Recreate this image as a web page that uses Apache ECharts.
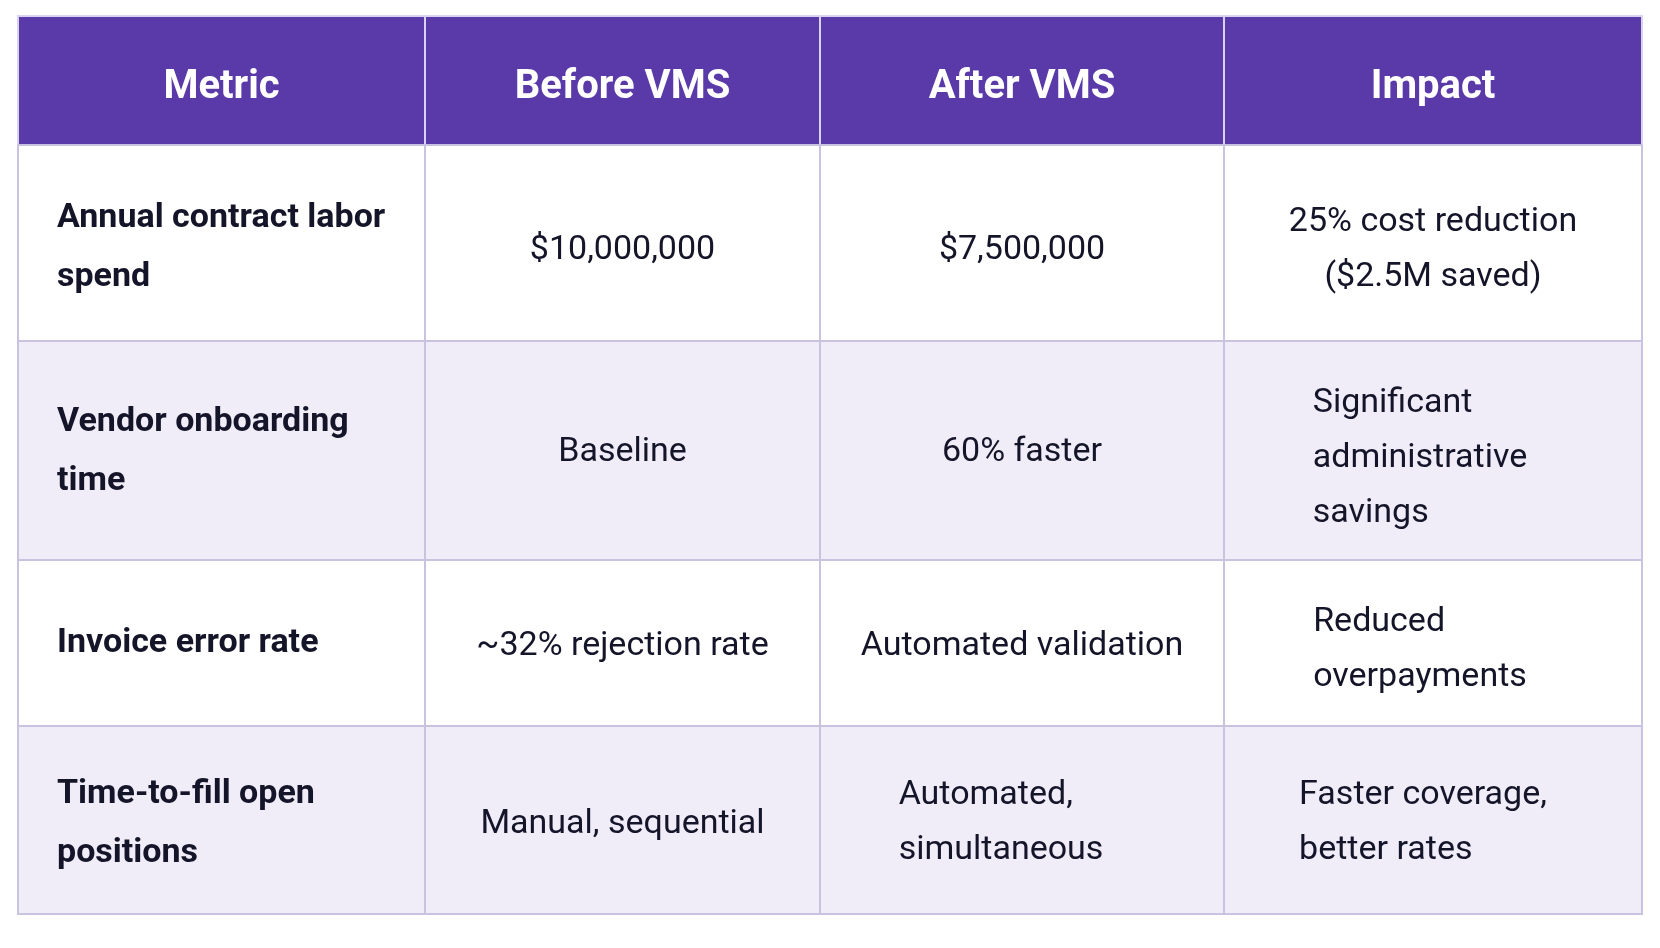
<!DOCTYPE html>
<html>
<head>
<meta charset="utf-8">
<script src="https://cdn.jsdelivr.net/npm/echarts@6/dist/echarts.min.js"></script>
<style>
  html, body { margin: 0; padding: 0; background: #ffffff; }
  #main { width: 1660px; height: 948px; }
</style>
</head>
<body>
<div id="main"></div>
<script>
// table content
var headers = ['Metric', 'Before VMS', 'After VMS', 'Impact'];
var metrics = ['Annual contract labor\nspend', 'Vendor onboarding\ntime', 'Invoice error rate', 'Time-to-fill open\npositions'];
var beforeVms = ['$10,000,000', 'Baseline', '~32% rejection rate', 'Manual, sequential'];
var afterVms = ['$7,500,000', '60% faster', 'Automated validation', 'Automated,\nsimultaneous'];
var impact = ['25% cost reduction\n($2.5M saved)', 'Significant\nadministrative\nsavings', 'Reduced\noverpayments', 'Faster coverage,\nbetter rates'];

// layout: column / row edges in axis units
var colEdges = [0, 407, 802, 1206, 1624];
var rowEdges = [0, 129, 325, 544, 710, 898];
// cells whose lines are left aligned inside a block, with the block's shift from centre
var blockCells = { '2,4': -21, '3,2': -13, '3,3': -13, '3,4': -10 };
// small vertical nudges per cell (col,row)
var yNudge = {
	'0,0': 7, '1,0': 7, '2,0': 7, '3,0': 7,
	'0,1': 5, '1,1': 7, '2,1': 7, '3,1': 7,
	'0,2': 1, '1,2': 2, '2,2': 2, '3,2': 8,
	'0,3': 0, '1,3': 3, '2,3': 3, '3,3': 7,
	'0,4': 4, '1,4': 4, '2,4': 3, '3,4': 3
};

var headFont = 'bold 40px Roboto';
var metricFont = 'bold 34px Roboto';
var bodyFont = '34px Roboto';

var measureCtx = document.createElement( 'canvas' ).getContext( '2d' );
var maxLineWidth = function(text, font){
	measureCtx.font = font;
	var lines = text.split( '\n' );
	var w = 0;
	for( var i = 0; i < lines.length; i++ ){
		w = Math.max( w, measureCtx.measureText( lines[i] ).width );
	}
	return w;
};

var cells = [];
for( var c = 0; c < headers.length; c++ ){
	cells.push( [c, 0, headers[c]] );
}
var columns = [metrics, beforeVms, afterVms, impact];
for( var r = 0; r < metrics.length; r++ ){
	for( c = 0; c < columns.length; c++ ){
		cells.push( [c, r + 1, columns[c][r]] );
	}
}

var renderCell = function(params, api){
	var col = api.value( 0 );
	var row = api.value( 1 );
	var key = col + ',' + row;
	var text = cells[params.dataIndex][2];
	var p0 = api.coord( [colEdges[col], rowEdges[row]] );
	var p1 = api.coord( [colEdges[col + 1], rowEdges[row + 1]] );
	var x = p0[0], y = p0[1], w = p1[0] - p0[0], h = p1[1] - p0[1];
	var isHead = row === 0;
	var fill = isHead ? '#5a39a9' : (row % 2 === 0 ? '#f0edf9' : '#ffffff');
	var font = isHead ? headFont : (col === 0 ? metricFont : bodyFont);
	var lineHeight = col === 0 ? 59 : 55;
	var tx = x + w / 2;
	var align = 'center';
	if( !isHead && col === 0 ){
		tx = x + 39;
		align = 'left';
	}else if( blockCells[key] !== undefined ){
		tx = x + w / 2 - maxLineWidth( text, font ) / 2 + blockCells[key];
		align = 'left';
	}
	return {
		type:'group',
		children:[
			{
				type:'rect',
				shape:{x:x, y:y, width:w, height:h},
				style:{fill:fill, stroke:isHead ? '#d9d2f0' : '#c9c3df', lineWidth:2}
			},
			{
				type:'text',
				style:{
					text:text,
					x:tx,
					y:y + h / 2 + (yNudge[key] || 0),
					font:font,
					fill:isHead ? '#ffffff' : '#15152a',
					align:align,
					verticalAlign:'middle',
					lineHeight:lineHeight
				}
			}
		]
	};
};

var chart = echarts.init( document.getElementById( 'main' ) );
chart.setOption( {
	animation:false,
	grid:{left:18, top:16, width:1624, height:898},
	xAxis:{
		type:'value', min:0, max:colEdges[colEdges.length - 1],
		axisLine:{show:false}, axisTick:{show:false}, axisLabel:{show:false}, splitLine:{show:false}
	},
	yAxis:{
		type:'value', inverse:true, min:0, max:rowEdges[rowEdges.length - 1],
		axisLine:{show:false}, axisTick:{show:false}, axisLabel:{show:false}, splitLine:{show:false}
	},
	series:[
		{
			type:'custom',
			renderItem:renderCell,
			data:cells.map( function(d){ return [d[0], d[1]]; } )
		}
	]
} );
</script>
</body>
</html>
